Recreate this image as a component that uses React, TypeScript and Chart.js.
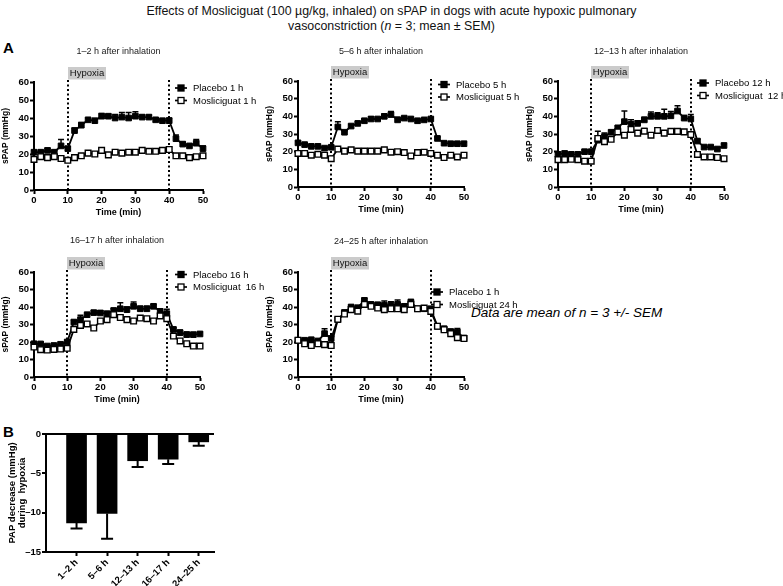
import React, { useEffect, useRef } from 'react';
import { Chart, registerables } from 'chart.js';

Chart.register(...registerables);

const FONT = "'Liberation Sans', Arial, Helvetica, sans-serif";

// ---------- data ----------
const times = [0, 2, 4, 6, 8, 10, 12, 14, 16, 18, 20, 22, 24, 26, 28, 30, 32, 34, 36, 38, 40, 42, 44, 46, 48, 50];
const xTicks = [0, 10, 20, 30, 40, 50];
const yTicks = [0, 10, 20, 30, 40, 50, 60];
const hypoxiaStart = 10;
const hypoxiaEnd = 40;

const placebo1 = [21, 21, 22, 21, 24.5, 23, 33, 36, 39, 38.5, 41, 41, 40, 40.5, 40, 41, 40.5, 40.5, 39, 38.5, 38.5, 28.5, 25.5, 24.5, 26, 23];
const placebo1Err = [1, 1, 1, 1, 3.5, 1, 1.5, 1.5, 0.8, 0.8, 1.5, 1, 2, 2.5, 3, 2.5, 1, 1, 0.8, 0.8, 1.5, 2, 1, 0.8, 2, 1.5];
const mosli1 = [17, 18.5, 18, 18.5, 17.5, 16.5, 18, 19, 20.5, 20, 22, 19.5, 21, 20.5, 21, 21, 22, 21.5, 21.5, 22, 22.5, 19, 19, 18, 18.5, 19];
const mosli1Err = [1, 0.8, 0.8, 0.8, 0.8, 1, 0.8, 0.8, 0.8, 0.8, 1, 0.8, 1.2, 1, 1.2, 1.2, 1, 1, 1, 1, 1.2, 0.8, 0.8, 0.8, 1, 0.8];

const placebo5 = [25, 24, 23, 23, 22, 22.5, 34, 31, 34.5, 36, 37.5, 38.5, 38.5, 40, 41, 38, 39, 38.5, 37.5, 38, 38.5, 27.5, 24.8, 24.5, 24.5, 24.5];
const placebo5Err = [0.8, 0.8, 0.8, 0.8, 0.8, 0.8, 3, 0.8, 0.8, 0.8, 0.8, 1.2, 0.8, 1.2, 1.8, 1.5, 0.8, 0.8, 0.8, 0.8, 0.8, 0.8, 0.8, 0.8, 0.8, 0.8];
const mosli5 = [19, 19, 18, 18.5, 18, 16, 21.5, 20.3, 21, 20.3, 20.3, 20.3, 20.3, 21, 19.7, 20, 19.5, 17.6, 19.5, 19.7, 19, 18, 16.7, 18, 17, 18];
const mosli5Err = [0.8, 0.8, 0.8, 0.8, 0.8, 0.8, 0.8, 0.8, 0.8, 0.8, 0.8, 0.8, 0.8, 0.8, 0.8, 0.8, 0.8, 0.8, 0.8, 0.8, 0.8, 0.8, 0.8, 0.8, 0.8, 0.8];

const placebo12 = [18.5, 19, 18.5, 18.5, 20, 20, 26.5, 28.5, 31, 33.5, 37, 35.5, 36, 38, 40, 40, 40, 40.3, 43, 39, 38.5, 26, 22.6, 22.6, 21.5, 23.5];
const placebo12Err = [1, 1, 1, 1, 1, 1, 5, 2, 1, 1, 6, 2.5, 1.5, 1.5, 2.5, 2, 4, 2.5, 3, 1.5, 2.5, 1, 0.8, 0.8, 0.8, 0.8];
const mosli12 = [15.5, 15.5, 15.7, 15.5, 14.6, 14.6, 27.5, 25.7, 27, 31.2, 29.3, 32.6, 30.5, 31.6, 29.3, 32, 30.5, 31.5, 31.5, 31.2, 29.7, 18.4, 17, 17, 16.7, 16];
const mosli12Err = [0.8, 0.8, 0.8, 0.8, 0.8, 0.8, 1.5, 2, 1, 1.5, 1, 1.5, 1, 1.5, 1, 1.5, 1, 1.5, 1, 1, 1, 0.8, 0.8, 0.8, 0.8, 0.8];

const placebo16 = [19, 18.9, 17.7, 18, 18.7, 20, 31.4, 32.8, 35.6, 36.8, 36.6, 36.2, 38, 39, 38.5, 40.4, 39, 39, 40.4, 37.5, 36.2, 27.2, 25.3, 24.2, 24.2, 24.6];
const placebo16Err = [0.8, 0.8, 0.8, 0.8, 0.8, 1, 1, 2.5, 1, 1, 1.2, 1, 1.2, 3.5, 1.5, 2.5, 1.5, 1.5, 1, 1.5, 2.5, 1, 1.5, 1.5, 1.2, 1];
const mosli16 = [17.1, 15.6, 15.4, 15.8, 16, 16.4, 27.2, 29.5, 30.3, 28, 32, 32.8, 35.6, 34, 32.8, 32, 33.7, 33.3, 32, 34.9, 33.3, 23.4, 20.6, 19, 17.7, 17.7];
const mosli16Err = [0.8, 0.8, 0.8, 0.8, 0.8, 0.8, 1, 1.5, 1, 1, 1, 1, 1.2, 1.5, 1, 1, 1, 1, 1, 1.5, 1, 1, 1, 0.8, 0.8, 0.8];

const placebo24 = [21, 21, 21.3, 20.6, 24.8, 22, 32.8, 36.8, 40, 39.6, 43.8, 41.5, 41.3, 41, 41, 41.5, 40.4, 42.8, 39, 39, 39, 29, 27.6, 26, 25.7, 22.3];
const placebo24Err = [0.8, 0.8, 1, 0.8, 2.8, 1.5, 1, 1.5, 1, 1, 1, 1, 1, 2.5, 2, 2.5, 1, 1.5, 1, 1, 1, 1, 1, 1, 2, 1];
const mosli24 = [21, 19, 18, 19, 18.5, 18, 33, 36, 38.5, 37.6, 41.5, 40.4, 39.4, 38.5, 39, 39, 38.5, 41.5, 39, 39.4, 37.5, 29, 27, 24.8, 22.5, 22];
const mosli24Err = [0.8, 0.8, 0.8, 0.8, 0.8, 0.8, 1, 1, 1, 1, 1, 1, 1, 1, 1, 1, 1, 1, 1, 1, 1, 1, 1, 1, 1, 1];

const barLabels = ['1–2 h', '5–6 h', '12–13 h', '16–17 h', '24–25 h'];
const barPositions = [1, 2, 3, 4, 5];
const barValues = [-11.3, -10.1, -3.4, -3.2, -1.0];
const barErrors = [0.7, 3.2, 0.8, 0.6, 0.5];
const barYTicks = [-15, -10, -5, 0];

// ---------- layout config (positions only) ----------
const panels = [
  { title: '1–2 h after inhalation', p: placebo1, pe: placebo1Err, m: mosli1, me: mosli1Err, lp: 'Placebo 1 h', lm: 'Mosliciguat 1 h', L: 34, T: 82, R: 203, B: 190, titleY: 52, lgDx: -28, lgDy: 6 },
  { title: '5–6 h after inhalation', p: placebo5, pe: placebo5Err, m: mosli5, me: mosli5Err, lp: 'Placebo 5 h', lm: 'Mosliciguat 5 h', L: 298, T: 81, R: 464, B: 187, titleY: 52, lgDx: -26, lgDy: 3.5 },
  { title: '12–13 h after inhalation', p: placebo12, pe: placebo12Err, m: mosli12, me: mosli12Err, lp: 'Placebo 12 h', lm: 'Mosliciguat  12 h', L: 558, T: 81, R: 724, B: 187, titleY: 52, lgDx: -27, lgDy: 2 },
  { title: '16–17 h after inhalation', p: placebo16, pe: placebo16Err, m: mosli16, me: mosli16Err, lp: 'Placebo 16 h', lm: 'Mosliciguat  16 h', L: 34, T: 272, R: 200, B: 377, titleY: 241, lgDx: -25, lgDy: 2.5 },
  { title: '24–25 h after inhalation', p: placebo24, pe: placebo24Err, m: mosli24, me: mosli24Err, lp: 'Placebo 1 h', lm: 'Mosliciguat 24 h', L: 298, T: 272, R: 464, B: 377, titleY: 242, lgDx: -33, lgDy: 20 },
];

const Y_AXIS_W = 34;
const X_AXIS_H = 29;
const TITLE_SIZE = 9;

const panelExtras = {
  id: 'panelExtras',
  beforeDatasetsDraw(chart: any) {
    const { ctx, chartArea, scales } = chart;
    const x = scales.x, y = scales.y;
    ctx.save();
    ctx.strokeStyle = '#000';
    ctx.lineWidth = 2;
    ctx.setLineDash([2, 2.5]);
    [hypoxiaStart, hypoxiaEnd].forEach((v) => {
      const px = Math.round(x.getPixelForValue(v));
      ctx.beginPath();
      ctx.moveTo(px, chartArea.top - 2);
      ctx.lineTo(px, chartArea.bottom);
      ctx.stroke();
    });
    ctx.setLineDash([]);
    ctx.lineWidth = 1.5;
    chart.data.datasets.forEach((ds: any, di: number) => {
      const meta = chart.getDatasetMeta(di);
      meta.data.forEach((pt: any, i: number) => {
        const v = ds.data[i].y;
        const top = y.getPixelForValue(v + ds.err[i]);
        ctx.beginPath();
        ctx.moveTo(pt.x, pt.y);
        ctx.lineTo(pt.x, top);
        ctx.moveTo(pt.x - 3, top);
        ctx.lineTo(pt.x + 3, top);
        ctx.stroke();
      });
    });
    ctx.restore();
  },
  afterDraw(chart: any, _a: any, opts: any) {
    const { ctx, chartArea, scales } = chart;
    const x = scales.x;
    ctx.save();
    const bx = Math.round(x.getPixelForValue(hypoxiaStart));
    ctx.fillStyle = '#cbcbcb';
    ctx.fillRect(bx, chartArea.top - 15, 38, 12.5);
    ctx.fillStyle = '#111';
    ctx.font = `9.5px ${FONT}`;
    ctx.textAlign = 'center';
    ctx.textBaseline = 'middle';
    ctx.fillText('Hypoxia', bx + 19, chartArea.top - 8.5);
    const lx = chartArea.right + opts.dx;
    chart.data.datasets.forEach((ds: any, i: number) => {
      const ly = chartArea.top + opts.dy + i * 12.5;
      ctx.strokeStyle = '#000';
      ctx.lineWidth = 1.7;
      ctx.beginPath();
      ctx.moveTo(lx, ly);
      ctx.lineTo(lx + 12, ly);
      ctx.stroke();
      ctx.fillStyle = ds.pointBackgroundColor;
      ctx.fillRect(lx + 3, ly - 3, 6, 6);
      ctx.lineWidth = 1.3;
      ctx.strokeRect(lx + 3, ly - 3, 6, 6);
      ctx.fillStyle = '#000';
      ctx.font = `9.5px ${FONT}`;
      ctx.textAlign = 'left';
      ctx.textBaseline = 'middle';
      ctx.fillText(ds.label, lx + 18, ly + 0.5);
    });
    ctx.restore();
  },
};

function LinePanel({ cfg }: { cfg: any }) {
  const ref = useRef<HTMLCanvasElement>(null);
  const cx = cfg.L - Y_AXIS_W;
  const cy = cfg.titleY - 8;
  const W = cfg.R - cx + 78;
  const H = cfg.B + X_AXIS_H - cy;
  useEffect(() => {
    const lh = TITLE_SIZE * 1.2;
    const padTop = cfg.titleY - cy - lh / 2;
    const padBottom = cfg.T - cy - padTop - lh;
    const mk = (arr: number[]) => times.map((t, i) => ({ x: t, y: arr[i] }));
    const chart = new Chart(ref.current as HTMLCanvasElement, {
      type: 'line',
      data: {
        datasets: [
          {
            label: cfg.lp, data: mk(cfg.p), err: cfg.pe,
            borderColor: '#000', borderWidth: 1.8, pointStyle: 'rect', pointRadius: 4,
            pointBackgroundColor: '#000', pointBorderColor: '#000', pointBorderWidth: 1,
            clip: false, order: 2, tension: 0,
          } as any,
          {
            label: cfg.lm, data: mk(cfg.m), err: cfg.me,
            borderColor: '#000', borderWidth: 1.8, pointStyle: 'rect', pointRadius: 4,
            pointBackgroundColor: '#fff', pointBorderColor: '#000', pointBorderWidth: 1.4,
            clip: false, order: 1, tension: 0,
          } as any,
        ],
      },
      options: {
        responsive: false,
        animation: false,
        devicePixelRatio: 1,
        layout: { padding: { left: 0, right: W - (cfg.R - cx), top: 0, bottom: 0 } },
        plugins: {
          legend: { display: false },
          tooltip: { enabled: false },
          title: {
            display: true, text: cfg.title, fullSize: false,
            font: { family: FONT, size: TITLE_SIZE, weight: 'normal' }, color: '#1a1a1a',
            padding: { top: padTop, bottom: padBottom },
          },
          panelExtras: { dx: cfg.lgDx, dy: cfg.lgDy },
        } as any,
        scales: {
          x: {
            type: 'linear', min: 0, max: 50,
            afterBuildTicks: (s: any) => { s.ticks = xTicks.map((v) => ({ value: v })); },
            afterFit: (s: any) => { s.height = X_AXIS_H; },
            grid: { display: true, drawOnChartArea: false, drawTicks: true, tickLength: 4, tickWidth: 2, tickColor: '#000' },
            border: { display: true, color: '#000', width: 2 },
            ticks: { font: { family: FONT, size: 9.5, weight: 'bold' }, color: '#000', padding: 1, maxRotation: 0, autoSkip: false },
            title: { display: true, text: 'Time (min)', font: { family: FONT, size: 9, weight: 'bold' }, color: '#000', padding: { top: 0, bottom: 1 } },
          },
          y: {
            type: 'linear', min: 0, max: 60,
            afterBuildTicks: (s: any) => { s.ticks = yTicks.map((v) => ({ value: v })); },
            afterFit: (s: any) => { s.width = Y_AXIS_W; },
            grid: { display: true, drawOnChartArea: false, drawTicks: true, tickLength: 4, tickWidth: 2, tickColor: '#000' },
            border: { display: true, color: '#000', width: 2 },
            ticks: { font: { family: FONT, size: 9.5, weight: 'bold' }, color: '#000', padding: 1, autoSkip: false },
            title: { display: true, text: 'sPAP (mmHg)', font: { family: FONT, size: 8.5, weight: 'bold' }, color: '#000', padding: { top: 1, bottom: 0 } },
          },
        } as any,
      },
      plugins: [panelExtras],
    } as any);
    return () => chart.destroy();
  }, []);
  return (
    <canvas ref={ref} width={W} height={H}
      style={{ position: 'absolute', left: cx, top: cy, width: W, height: H }} />
  );
}

const barErrorPlugin = {
  id: 'barErrors',
  afterDatasetsDraw(chart: any) {
    const { ctx, scales } = chart;
    const y = scales.y;
    ctx.save();
    ctx.strokeStyle = '#000';
    ctx.lineWidth = 2;
    chart.data.datasets.forEach((ds: any, di: number) => {
      const meta = chart.getDatasetMeta(di);
      meta.data.forEach((bar: any, i: number) => {
        const v = ds.data[i].y;
        const bot = y.getPixelForValue(v - ds.err[i]);
        ctx.beginPath();
        ctx.moveTo(bar.x, bar.y);
        ctx.lineTo(bar.x, bot);
        ctx.moveTo(bar.x - 6, bot);
        ctx.lineTo(bar.x + 6, bot);
        ctx.stroke();
      });
    });
    ctx.restore();
  },
};

function BarPanel() {
  const ref = useRef<HTMLCanvasElement>(null);
  const cx = 0, cy = 410, W = 230, H = 176;
  useEffect(() => {
    const chart = new Chart(ref.current as HTMLCanvasElement, {
      type: 'bar',
      data: {
        datasets: [{
          data: barPositions.map((p, i) => ({ x: p, y: barValues[i] })),
          err: barErrors,
          backgroundColor: '#000', borderWidth: 0, barThickness: 20,
        } as any],
      },
      options: {
        responsive: false,
        animation: false,
        devicePixelRatio: 1,
        layout: { padding: { left: 0, right: 16, top: 24, bottom: 0 } },
        plugins: { legend: { display: false }, tooltip: { enabled: false }, title: { display: false } },
        scales: {
          x: {
            type: 'linear', min: 0, max: 5.5, offset: false,
            afterBuildTicks: (s: any) => { s.ticks = barPositions.map((v) => ({ value: v })); },
            afterFit: (s: any) => { s.height = 34; },
            grid: { display: true, offset: false, drawOnChartArea: false, drawTicks: true, tickLength: 4, tickWidth: 2, tickColor: '#000' },
            border: { display: true, color: '#000', width: 2 },
            ticks: {
              font: { family: FONT, size: 9.5, weight: 'bold' }, color: '#000', padding: 1,
              minRotation: 45, maxRotation: 45, autoSkip: false,
              callback: (v: any) => barLabels[barPositions.indexOf(v)] ?? '',
            },
          },
          y: {
            type: 'linear', min: -15, max: 0,
            afterBuildTicks: (s: any) => { s.ticks = barYTicks.map((v) => ({ value: v })); },
            afterFit: (s: any) => { s.width = 46; },
            grid: {
              display: true, drawOnChartArea: true, drawTicks: true, tickLength: 4, tickWidth: 2,
              tickColor: '#000', lineWidth: 2,
              color: (c: any) => (c.tick && c.tick.value === 0 ? '#000' : 'rgba(0,0,0,0)'),
            },
            border: { display: true, color: '#000', width: 2 },
            ticks: {
              font: { family: FONT, size: 9.5, weight: 'bold' }, color: '#000', padding: 1, autoSkip: false,
              callback: (v: any) => (v === 0 ? '0' : '–' + Math.abs(v)),
            },
            title: {
              display: true, text: ['PAP decrease (mmHg)', 'during  hypoxia'],
              font: { family: FONT, size: 9.5, weight: 'bold', lineHeight: 1.1 }, color: '#000', padding: { top: 7, bottom: 0 },
            },
          },
        } as any,
      },
      plugins: [barErrorPlugin],
    } as any);
    return () => chart.destroy();
  }, []);
  return (
    <canvas ref={ref} width={W} height={H}
      style={{ position: 'absolute', left: cx, top: cy, width: W, height: H }} />
  );
}

export default function App() {
  return (
    <div style={{ position: 'absolute', left: 0, top: 0, width: 783, height: 586, overflow: 'hidden', background: '#fff', fontFamily: FONT }}>
      <div style={{ position: 'absolute', left: 0, top: 4, width: 783, textAlign: 'center', fontSize: 12.4, lineHeight: '15px', color: '#111' }}>
        Effects of Mosliciguat (100 µg/kg, inhaled) on sPAP in dogs with acute hypoxic pulmonary<br />
        vasoconstriction (<i>n</i> = 3; mean ± SEM)
      </div>
      <div style={{ position: 'absolute', left: 3, top: 40, fontSize: 15, fontWeight: 'bold', lineHeight: '16px' }}>A</div>
      <div style={{ position: 'absolute', left: 3, top: 424, fontSize: 15, fontWeight: 'bold', lineHeight: '16px' }}>B</div>
      <div style={{ position: 'absolute', left: 471, top: 305, fontSize: 13.5, fontStyle: 'italic', lineHeight: '16px', color: '#000' }}>
        Data are mean of n = 3 +/- SEM
      </div>
      {panels.map((c, i) => <LinePanel key={i} cfg={c} />)}
      <BarPanel />
    </div>
  );
}
